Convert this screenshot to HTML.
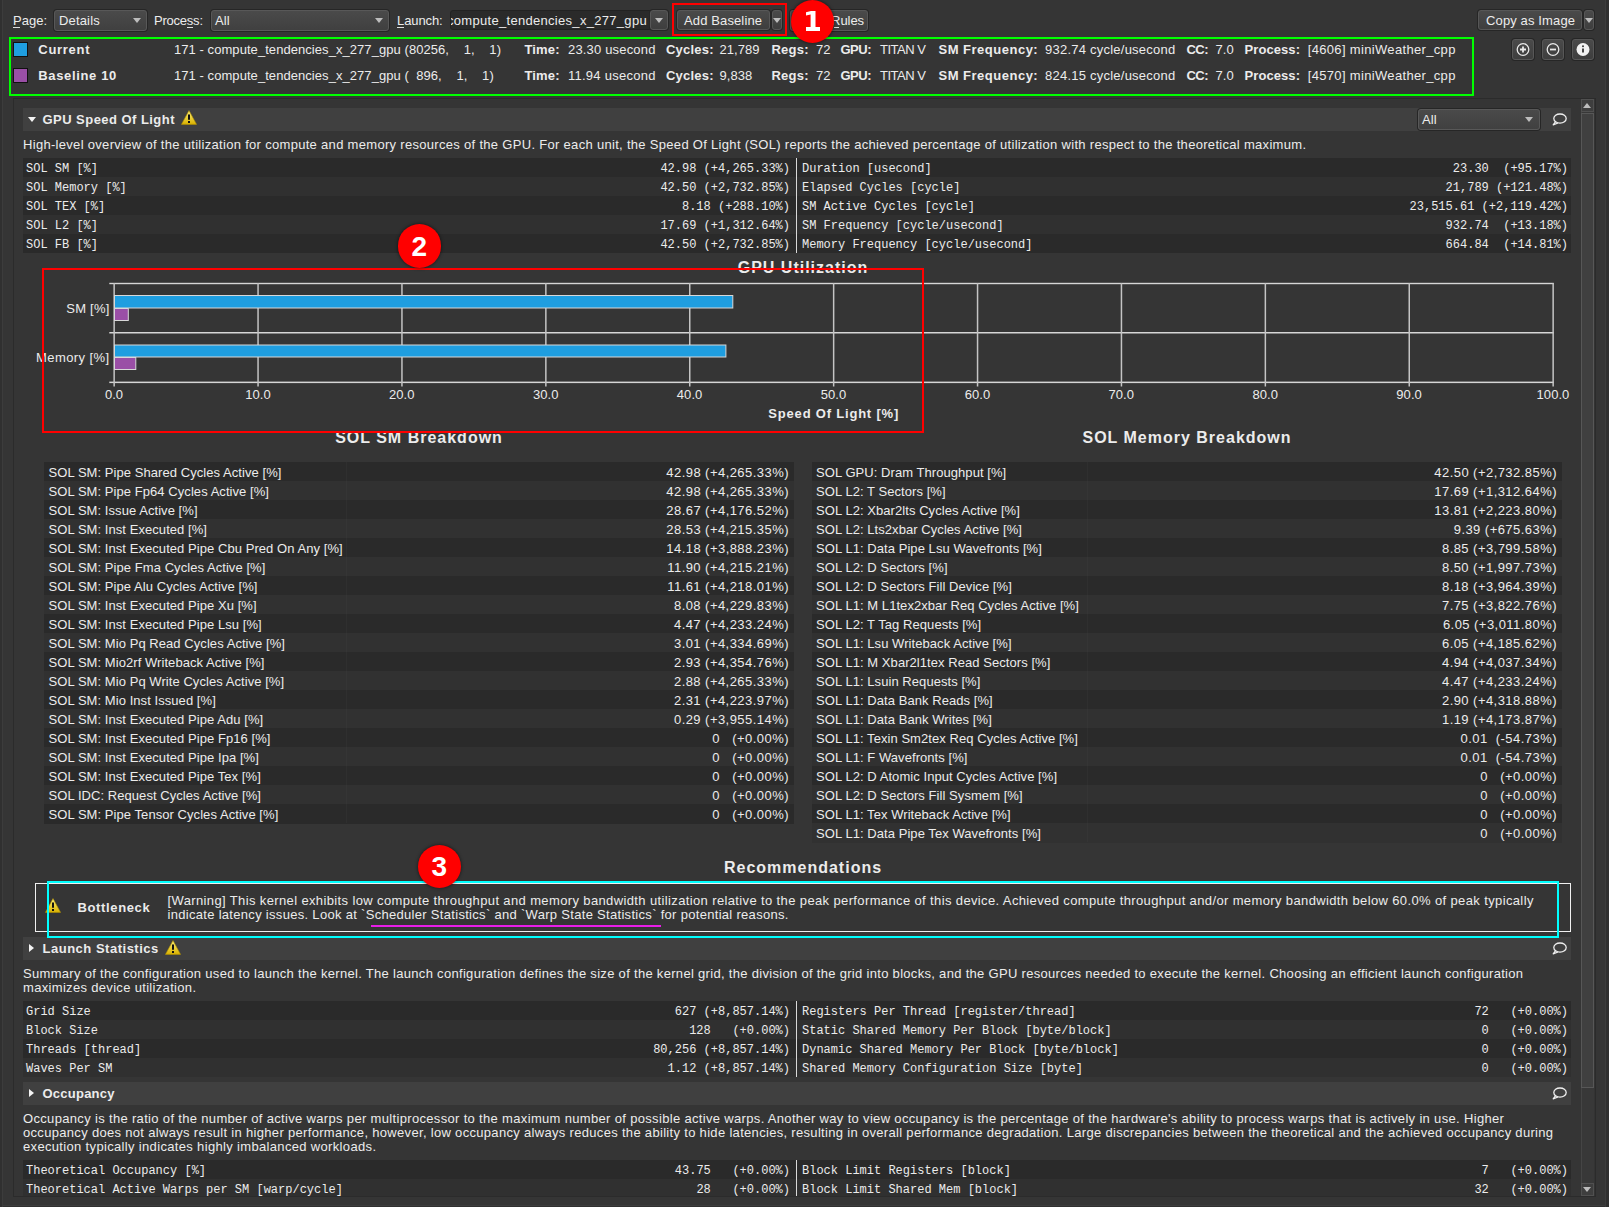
<!DOCTYPE html><html><head><meta charset="utf-8"><style>

*{margin:0;padding:0;box-sizing:border-box}
html,body{width:1609px;height:1207px;overflow:hidden;background:#353535}
body{position:relative;font-family:"Liberation Sans",sans-serif;color:#ececec}
.a{position:absolute;white-space:pre}
.n{font:13px/15px "Liberation Sans",sans-serif;letter-spacing:0.06px}
.b{font:bold 13px/15px "Liberation Sans",sans-serif;letter-spacing:0.4px}
.m{font:12px/15px "Liberation Mono",monospace}
.t16{font:bold 16px/20px "Liberation Sans",sans-serif;letter-spacing:1.0px}


.btn{position:absolute;border:1px solid #575757;border-radius:3px;background:linear-gradient(#4a4a4a,#3e3e3e);box-shadow:0 0 0 1px #262626}
.combo{position:absolute;border:1px solid #585858;border-radius:3px;background:linear-gradient(#4a4a4a,#404040);box-shadow:0 0 0 1px #262626}
.arr{position:absolute;width:0;height:0;border-left:4px solid transparent;border-right:4px solid transparent;border-top:5px solid #bdbdbd}
.circ{position:absolute;border-radius:50%;background:#ff0000;box-shadow:0 0 3px 1px rgba(0,0,0,0.35)}
.sech{position:absolute;background:#404040}
.row0{position:absolute;background:#2a2a2a}
.row1{position:absolute;background:#303030}

</style></head><body>
<div class="a" style="left:0px;top:0px;width:1609px;height:1207px;background:#353535;"></div>
<div class="a" style="left:0px;top:0px;width:2px;height:1207px;background:#303030;"></div>
<div class="a" style="left:2px;top:0px;width:1px;height:1207px;background:#3c3c3c;"></div>
<div class="a" style="left:1605px;top:0px;width:1px;height:1207px;background:#3c3c3c;"></div>
<div class="a" style="left:1606px;top:0px;width:3px;height:1207px;background:#2f2f2f;"></div>
<div class="a" style="left:3px;top:1205px;width:1602px;height:1px;background:#3c3c3c;"></div>
<div class="a" style="left:3px;top:1206px;width:1602px;height:1px;background:#303030;"></div>
<div class="a" style="left:13px;top:98px;width:1583px;height:1099px;background:#2b2b2b;"></div>
<div class="a" style="left:14px;top:99px;width:1567px;height:1097px;background:#353535;"></div>
<div class="a" style="left:1581px;top:99px;width:14px;height:1097px;background:#333333;"></div>
<div class="a" style="left:1581px;top:99px;width:13px;height:13px;background:#3e3e3e;border:1px solid #505050"></div>
<div class="arr" style="left:1583px;top:103px;border-top:none;border-bottom:5px solid #bdbdbd"></div>
<div class="a" style="left:1581px;top:112px;width:13px;height:1071px;background:#383838;border-left:1px solid #454545"></div>
<div class="a" style="left:1581px;top:113px;width:13px;height:975px;background:#404040;border:1px solid #575757"></div>
<div class="a" style="left:1581px;top:1183px;width:13px;height:13px;background:#3e3e3e;border:1px solid #505050"></div>
<div class="arr" style="left:1583px;top:1187px"></div>
<div id="t1" class="a n" style="letter-spacing:0.004px;top:13px;left:13px;">Page:</div>
<div class="a" style="left:13px;top:27px;width:7px;height:1px;background:#dddddd;"></div>
<div class="combo" style="left:54px;top:10px;width:93px;height:21px"></div>
<div id="t2" class="a n" style="letter-spacing:0.158px;top:13px;left:59px;">Details</div>
<div class="arr" style="left:133px;top:18px"></div>
<div id="t3" class="a n" style="letter-spacing:-0.225px;top:13px;left:154px;">Process:</div>
<div class="a" style="left:187px;top:27px;width:6px;height:1px;background:#dddddd;"></div>
<div class="combo" style="left:211px;top:10px;width:178px;height:21px"></div>
<div id="t4" class="a n" style="top:13px;left:215px;">All</div>
<div class="arr" style="left:375px;top:18px"></div>
<div id="t5" class="a n" style="letter-spacing:-0.094px;top:13px;left:397px;">Launch:</div>
<div class="a" style="left:397px;top:27px;width:7px;height:1px;background:#dddddd;"></div>
<div class="a" style="left:450px;top:10px;width:218px;height:20px;background:#2a2a2a;border-radius:3px;border:1px solid #222"></div>
<div style="position:absolute;left:451px;top:10px;width:199px;height:20px;overflow:hidden"><div class="a n" style="left:-4px;top:3px;letter-spacing:0.3px">compute_tendencies_x_277_gpu</div></div>
<div class="btn" style="left:650px;top:10px;width:18px;height:20px"></div>
<div class="arr" style="left:655px;top:18px"></div>
<div class="btn" style="left:677px;top:10px;width:93px;height:20px"></div>
<div id="t6" class="a n" style="letter-spacing:0.125px;top:13px;left:684px;">Add Baseline</div>
<div class="btn" style="left:772px;top:10px;width:10px;height:20px"></div>
<div class="arr" style="left:773px;top:18px;border-left-width:4px;border-right-width:4px"></div>
<div class="btn" style="left:790px;top:10px;width:78px;height:21px"></div>
<div id="t7" class="a n" style="letter-spacing:-0.062px;top:13px;right:745px;">Rules</div>
<div class="a" style="left:834px;top:27px;width:5px;height:1px;background:#dddddd;"></div>
<div class="a" style="left:672px;top:3px;width:115px;height:33px;border:2px solid #ff0000"></div>
<div class="btn" style="left:1478px;top:10px;width:104px;height:20px"></div>
<div id="t8" class="a n" style="letter-spacing:0.130px;top:13px;left:1486px;">Copy as Image</div>
<div class="btn" style="left:1584px;top:10px;width:10px;height:20px"></div>
<div class="arr" style="left:1585px;top:18px"></div>
<div class="a" style="left:9px;top:37px;width:1465px;height:59px;border:2px solid #00ff00"></div>
<div class="a" style="left:13px;top:42px;width:15px;height:15px;background:#1f9ee0;border:1px solid #111"></div>
<div class="a" style="left:13px;top:68px;width:15px;height:15px;background:#9a4fa6;border:1px solid #111"></div>
<div id="t9" class="a b" style="letter-spacing:0.708px;top:42px;left:38.3px;">Current</div>
<div id="t10" class="a n" style="top:42px;left:174px;">171 - compute_tendencies_x_277_gpu (80256,    1,    1)</div>
<div id="t11" class="a b" style="letter-spacing:0.141px;top:42px;left:524.5px;">Time:</div>
<div id="t12" class="a n" style="letter-spacing:0.175px;top:42px;left:568px;">23.30 usecond</div>
<div id="t13" class="a b" style="letter-spacing:0.208px;top:42px;left:666px;">Cycles:</div>
<div id="t14" class="a n" style="top:42px;left:719.5px;">21,789</div>
<div id="t15" class="a b" style="letter-spacing:0.219px;top:42px;left:771.5px;">Regs:</div>
<div id="t16" class="a n" style="top:42px;left:816px;">72</div>
<div id="t17" class="a b" style="letter-spacing:-0.500px;top:42px;left:840.5px;">GPU:</div>
<div id="t18" class="a n" style="letter-spacing:-0.479px;top:42px;left:880px;">TITAN V</div>
<div id="t19" class="a b" style="letter-spacing:0.501px;top:42px;left:938.5px;">SM Frequency:</div>
<div id="t20" class="a n" style="letter-spacing:0.233px;top:42px;left:1045px;">932.74 cycle/usecond</div>
<div id="t21" class="a b" style="letter-spacing:-0.555px;top:42px;left:1186.5px;">CC:</div>
<div id="t22" class="a n" style="top:42px;left:1215.5px;">7.0</div>
<div id="t23" class="a b" style="letter-spacing:0.083px;top:42px;left:1244.5px;">Process:</div>
<div id="t24" class="a n" style="letter-spacing:0.334px;top:42px;left:1307.7px;">[4606] miniWeather_cpp</div>
<div id="t25" class="a b" style="letter-spacing:0.645px;top:68px;left:38.3px;">Baseline 10</div>
<div id="t26" class="a n" style="top:68px;left:174px;">171 - compute_tendencies_x_277_gpu (  896,    1,    1)</div>
<div id="t27" class="a b" style="letter-spacing:0.141px;top:68px;left:524.5px;">Time:</div>
<div id="t28" class="a n" style="letter-spacing:0.255px;top:68px;left:568px;">11.94 usecond</div>
<div id="t29" class="a b" style="letter-spacing:0.208px;top:68px;left:666px;">Cycles:</div>
<div id="t30" class="a n" style="top:68px;left:719.5px;">9,838</div>
<div id="t31" class="a b" style="letter-spacing:0.219px;top:68px;left:771.5px;">Regs:</div>
<div id="t32" class="a n" style="top:68px;left:816px;">72</div>
<div id="t33" class="a b" style="letter-spacing:-0.500px;top:68px;left:840.5px;">GPU:</div>
<div id="t34" class="a n" style="letter-spacing:-0.479px;top:68px;left:880px;">TITAN V</div>
<div id="t35" class="a b" style="letter-spacing:0.501px;top:68px;left:938.5px;">SM Frequency:</div>
<div id="t36" class="a n" style="letter-spacing:0.233px;top:68px;left:1045px;">824.15 cycle/usecond</div>
<div id="t37" class="a b" style="letter-spacing:-0.555px;top:68px;left:1186.5px;">CC:</div>
<div id="t38" class="a n" style="top:68px;left:1215.5px;">7.0</div>
<div id="t39" class="a b" style="letter-spacing:0.083px;top:68px;left:1244.5px;">Process:</div>
<div id="t40" class="a n" style="letter-spacing:0.334px;top:68px;left:1307.7px;">[4570] miniWeather_cpp</div>
<div class="btn" style="left:1512px;top:39px;width:22px;height:21px"></div>
<div class="btn" style="left:1542px;top:39px;width:22px;height:21px"></div>
<div class="btn" style="left:1572px;top:39px;width:22px;height:21px"></div>
<svg class="a" style="left:1512px;top:39px" width="82" height="21" viewBox="0 0 82 21">
<circle cx="11" cy="10.5" r="5.8" fill="none" stroke="#e8e8e8" stroke-width="1.3"/>
<path d="M8 10.5h6M11 7.5v6" stroke="#e8e8e8" stroke-width="1.8"/>
<circle cx="41" cy="10.5" r="5.8" fill="none" stroke="#e8e8e8" stroke-width="1.3"/>
<path d="M38 10.5h6" stroke="#e8e8e8" stroke-width="1.8"/>
<circle cx="71" cy="10.5" r="6.5" fill="#f2f2f2"/>
<path d="M71 9.5v4" stroke="#333" stroke-width="1.8"/><circle cx="71" cy="7.3" r="1" fill="#333"/>
</svg>
<div class="sech" style="left:23px;top:108px;width:1548px;height:23px"></div>
<div class="arr" style="left:28px;top:117px;border-left-width:4px;border-right-width:4px;border-top:5px solid #f4f4f4"></div>
<div id="t41" class="a b" style="letter-spacing:0.457px;top:112px;left:42.5px;">GPU Speed Of Light</div>
<svg class="a" style="left:181px;top:110px" width="16" height="15" viewBox="0 0 16 15">
<defs><linearGradient id="wg222" x1="0" y1="0" x2="0" y2="1"><stop offset="0" stop-color="#fff27a"/><stop offset="1" stop-color="#d9b100"/></linearGradient></defs>
<path d="M8 0.6 L15.6 14.4 L0.4 14.4 Z" fill="url(#wg222)" stroke="#b08f00" stroke-width="0.6"/>
<path d="M8 4.6v5.2" stroke="#111" stroke-width="2"/><rect x="7" y="11" width="2" height="2" fill="#111"/>
</svg>
<div class="combo" style="left:1418px;top:109px;width:122px;height:21px"></div>
<div id="t42" class="a n" style="top:112px;left:1422px;">All</div>
<div class="arr" style="left:1525px;top:117px"></div>
<svg class="a" style="left:1552px;top:113px" width="15" height="13" viewBox="0 0 15 13">
<ellipse cx="8" cy="5.6" rx="6.2" ry="4.6" fill="none" stroke="#f0f0f0" stroke-width="1.3"/>
<path d="M3.6 8.6 L1.2 11.8 L6 10" fill="none" stroke="#f0f0f0" stroke-width="1.3" stroke-linejoin="round"/>
</svg>
<div id="t43" class="a n" style="letter-spacing:0.305px;top:137px;left:23px;">High-level overview of the utilization for compute and memory resources of the GPU. For each unit, the Speed Of Light (SOL) reports the achieved percentage of utilization with respect to the theoretical maximum.</div>
<div class="a" style="left:23px;top:158px;width:1548px;height:19px;background:#2a2a2a;"></div>
<div id="t44" class="a m" style="top:162px;left:26px;">SOL SM [%]</div>
<div id="t45" class="a m" style="top:162px;right:819px;">42.98 (+4,265.33%)</div>
<div id="t46" class="a m" style="top:162px;left:802px;">Duration [usecond]</div>
<div id="t47" class="a m" style="top:162px;right:41px;">23.30  (+95.17%)</div>
<div class="a" style="left:23px;top:177px;width:1548px;height:19px;background:#303030;"></div>
<div id="t48" class="a m" style="top:181px;left:26px;">SOL Memory [%]</div>
<div id="t49" class="a m" style="top:181px;right:819px;">42.50 (+2,732.85%)</div>
<div id="t50" class="a m" style="top:181px;left:802px;">Elapsed Cycles [cycle]</div>
<div id="t51" class="a m" style="top:181px;right:41px;">21,789 (+121.48%)</div>
<div class="a" style="left:23px;top:196px;width:1548px;height:19px;background:#2a2a2a;"></div>
<div id="t52" class="a m" style="top:200px;left:26px;">SOL TEX [%]</div>
<div id="t53" class="a m" style="top:200px;right:819px;">8.18 (+288.10%)</div>
<div id="t54" class="a m" style="top:200px;left:802px;">SM Active Cycles [cycle]</div>
<div id="t55" class="a m" style="top:200px;right:41px;">23,515.61 (+2,119.42%)</div>
<div class="a" style="left:23px;top:215px;width:1548px;height:19px;background:#303030;"></div>
<div id="t56" class="a m" style="top:219px;left:26px;">SOL L2 [%]</div>
<div id="t57" class="a m" style="top:219px;right:819px;">17.69 (+1,312.64%)</div>
<div id="t58" class="a m" style="top:219px;left:802px;">SM Frequency [cycle/usecond]</div>
<div id="t59" class="a m" style="top:219px;right:41px;">932.74  (+13.18%)</div>
<div class="a" style="left:23px;top:234px;width:1548px;height:19px;background:#2a2a2a;"></div>
<div id="t60" class="a m" style="top:238px;left:26px;">SOL FB [%]</div>
<div id="t61" class="a m" style="top:238px;right:819px;">42.50 (+2,732.85%)</div>
<div id="t62" class="a m" style="top:238px;left:802px;">Memory Frequency [cycle/usecond]</div>
<div id="t63" class="a m" style="top:238px;right:41px;">664.84  (+14.81%)</div>
<div class="a" style="left:796px;top:158px;width:1px;height:95px;background:#d8d8d8;"></div>
<svg class="a" style="left:0;top:0" width="1609" height="1207" viewBox="0 0 1609 1207">
<rect x="109.3" y="282.8" width="1444.5" height="1.4" fill="#d6d6d6"/>
<rect x="109.3" y="332.0" width="1444.5" height="1.5" fill="#d6d6d6"/>
<rect x="109.3" y="381.6" width="1444.5" height="1.5" fill="#d6d6d6"/>
<rect x="113.40" y="283" width="1.5" height="103.5" fill="#c4c4c4"/>
<rect x="257.30" y="283" width="1.5" height="103.5" fill="#c4c4c4"/>
<rect x="401.20" y="283" width="1.5" height="103.5" fill="#c4c4c4"/>
<rect x="545.10" y="283" width="1.5" height="103.5" fill="#c4c4c4"/>
<rect x="689.00" y="283" width="1.5" height="103.5" fill="#c4c4c4"/>
<rect x="832.90" y="283" width="1.5" height="103.5" fill="#c4c4c4"/>
<rect x="976.80" y="283" width="1.5" height="103.5" fill="#c4c4c4"/>
<rect x="1120.70" y="283" width="1.5" height="103.5" fill="#c4c4c4"/>
<rect x="1264.60" y="283" width="1.5" height="103.5" fill="#c4c4c4"/>
<rect x="1408.50" y="283" width="1.5" height="103.5" fill="#c4c4c4"/>
<rect x="1552.40" y="283" width="1.5" height="103.5" fill="#c4c4c4"/>
<rect x="114.5" y="295.5" width="618.3" height="12.5" fill="#1f9ee0" stroke="#d8d8d8" stroke-width="1"/>
<rect x="114.5" y="308.5" width="13.8" height="12.0" fill="#9a4fa6" stroke="#d8d8d8" stroke-width="1"/>
<rect x="114.5" y="345.0" width="611.4" height="12.0" fill="#1f9ee0" stroke="#d8d8d8" stroke-width="1"/>
<rect x="114.5" y="357.5" width="21.3" height="12.0" fill="#9a4fa6" stroke="#d8d8d8" stroke-width="1"/>
</svg>
<div id="t64" class="a n" style="letter-spacing:0.219px;top:301px;right:1499.5px;">SM [%]</div>
<div id="t65" class="a n" style="letter-spacing:0.406px;top:350px;right:1499.5px;">Memory [%]</div>
<div id="t66" class="a n" style="top:387px;left:114.0px;width:0;display:flex;justify-content:center;"><span>0.0</span></div>
<div id="t67" class="a n" style="top:387px;left:257.9px;width:0;display:flex;justify-content:center;"><span>10.0</span></div>
<div id="t68" class="a n" style="top:387px;left:401.8px;width:0;display:flex;justify-content:center;"><span>20.0</span></div>
<div id="t69" class="a n" style="top:387px;left:545.7px;width:0;display:flex;justify-content:center;"><span>30.0</span></div>
<div id="t70" class="a n" style="top:387px;left:689.6px;width:0;display:flex;justify-content:center;"><span>40.0</span></div>
<div id="t71" class="a n" style="top:387px;left:833.5px;width:0;display:flex;justify-content:center;"><span>50.0</span></div>
<div id="t72" class="a n" style="top:387px;left:977.4px;width:0;display:flex;justify-content:center;"><span>60.0</span></div>
<div id="t73" class="a n" style="top:387px;left:1121.3px;width:0;display:flex;justify-content:center;"><span>70.0</span></div>
<div id="t74" class="a n" style="top:387px;left:1265.2px;width:0;display:flex;justify-content:center;"><span>80.0</span></div>
<div id="t75" class="a n" style="top:387px;left:1409.1px;width:0;display:flex;justify-content:center;"><span>90.0</span></div>
<div id="t76" class="a n" style="top:387px;left:1553.0px;width:0;display:flex;justify-content:center;"><span>100.0</span></div>
<div id="t77" class="a t16" style="top:258px;left:803px;width:0;display:flex;justify-content:center;"><span>GPU Utilization</span></div>
<div id="t78" class="a b" style="top:406px;left:833.7px;width:0;display:flex;justify-content:center;letter-spacing:0.8px"><span>Speed Of Light [%]</span></div>
<div id="t79" class="a t16" style="top:428px;left:419px;width:0;display:flex;justify-content:center;"><span>SOL SM Breakdown</span></div>
<div id="t80" class="a t16" style="top:428px;left:1187px;width:0;display:flex;justify-content:center;"><span>SOL Memory Breakdown</span></div>
<div class="a" style="left:44px;top:462px;width:750px;height:19px;background:#2a2a2a;"></div>
<div id="t81" class="a n" style="top:465px;left:48.5px;">SOL SM: Pipe Shared Cycles Active [%]</div>
<div id="t82" class="a n" style="top:465px;right:820.5px;letter-spacing:0.45px;margin-right:-0.45px">42.98 (+4,265.33%)</div>
<div class="a" style="left:44px;top:481px;width:750px;height:19px;background:#313131;"></div>
<div id="t83" class="a n" style="top:484px;left:48.5px;">SOL SM: Pipe Fp64 Cycles Active [%]</div>
<div id="t84" class="a n" style="top:484px;right:820.5px;letter-spacing:0.45px;margin-right:-0.45px">42.98 (+4,265.33%)</div>
<div class="a" style="left:44px;top:500px;width:750px;height:19px;background:#2a2a2a;"></div>
<div id="t85" class="a n" style="top:503px;left:48.5px;">SOL SM: Issue Active [%]</div>
<div id="t86" class="a n" style="top:503px;right:820.5px;letter-spacing:0.45px;margin-right:-0.45px">28.67 (+4,176.52%)</div>
<div class="a" style="left:44px;top:519px;width:750px;height:19px;background:#313131;"></div>
<div id="t87" class="a n" style="top:522px;left:48.5px;">SOL SM: Inst Executed [%]</div>
<div id="t88" class="a n" style="top:522px;right:820.5px;letter-spacing:0.45px;margin-right:-0.45px">28.53 (+4,215.35%)</div>
<div class="a" style="left:44px;top:538px;width:750px;height:19px;background:#2a2a2a;"></div>
<div id="t89" class="a n" style="top:541px;left:48.5px;">SOL SM: Inst Executed Pipe Cbu Pred On Any [%]</div>
<div id="t90" class="a n" style="top:541px;right:820.5px;letter-spacing:0.45px;margin-right:-0.45px">14.18 (+3,888.23%)</div>
<div class="a" style="left:44px;top:557px;width:750px;height:19px;background:#313131;"></div>
<div id="t91" class="a n" style="top:560px;left:48.5px;">SOL SM: Pipe Fma Cycles Active [%]</div>
<div id="t92" class="a n" style="top:560px;right:820.5px;letter-spacing:0.45px;margin-right:-0.45px">11.90 (+4,215.21%)</div>
<div class="a" style="left:44px;top:576px;width:750px;height:19px;background:#2a2a2a;"></div>
<div id="t93" class="a n" style="top:579px;left:48.5px;">SOL SM: Pipe Alu Cycles Active [%]</div>
<div id="t94" class="a n" style="top:579px;right:820.5px;letter-spacing:0.45px;margin-right:-0.45px">11.61 (+4,218.01%)</div>
<div class="a" style="left:44px;top:595px;width:750px;height:19px;background:#313131;"></div>
<div id="t95" class="a n" style="top:598px;left:48.5px;">SOL SM: Inst Executed Pipe Xu [%]</div>
<div id="t96" class="a n" style="top:598px;right:820.5px;letter-spacing:0.45px;margin-right:-0.45px">8.08 (+4,229.83%)</div>
<div class="a" style="left:44px;top:614px;width:750px;height:19px;background:#2a2a2a;"></div>
<div id="t97" class="a n" style="top:617px;left:48.5px;">SOL SM: Inst Executed Pipe Lsu [%]</div>
<div id="t98" class="a n" style="top:617px;right:820.5px;letter-spacing:0.45px;margin-right:-0.45px">4.47 (+4,233.24%)</div>
<div class="a" style="left:44px;top:633px;width:750px;height:19px;background:#313131;"></div>
<div id="t99" class="a n" style="top:636px;left:48.5px;">SOL SM: Mio Pq Read Cycles Active [%]</div>
<div id="t100" class="a n" style="top:636px;right:820.5px;letter-spacing:0.45px;margin-right:-0.45px">3.01 (+4,334.69%)</div>
<div class="a" style="left:44px;top:652px;width:750px;height:19px;background:#2a2a2a;"></div>
<div id="t101" class="a n" style="top:655px;left:48.5px;">SOL SM: Mio2rf Writeback Active [%]</div>
<div id="t102" class="a n" style="top:655px;right:820.5px;letter-spacing:0.45px;margin-right:-0.45px">2.93 (+4,354.76%)</div>
<div class="a" style="left:44px;top:671px;width:750px;height:19px;background:#313131;"></div>
<div id="t103" class="a n" style="top:674px;left:48.5px;">SOL SM: Mio Pq Write Cycles Active [%]</div>
<div id="t104" class="a n" style="top:674px;right:820.5px;letter-spacing:0.45px;margin-right:-0.45px">2.88 (+4,265.33%)</div>
<div class="a" style="left:44px;top:690px;width:750px;height:19px;background:#2a2a2a;"></div>
<div id="t105" class="a n" style="top:693px;left:48.5px;">SOL SM: Mio Inst Issued [%]</div>
<div id="t106" class="a n" style="top:693px;right:820.5px;letter-spacing:0.45px;margin-right:-0.45px">2.31 (+4,223.97%)</div>
<div class="a" style="left:44px;top:709px;width:750px;height:19px;background:#313131;"></div>
<div id="t107" class="a n" style="top:712px;left:48.5px;">SOL SM: Inst Executed Pipe Adu [%]</div>
<div id="t108" class="a n" style="top:712px;right:820.5px;letter-spacing:0.45px;margin-right:-0.45px">0.29 (+3,955.14%)</div>
<div class="a" style="left:44px;top:728px;width:750px;height:19px;background:#2a2a2a;"></div>
<div id="t109" class="a n" style="top:731px;left:48.5px;">SOL SM: Inst Executed Pipe Fp16 [%]</div>
<div id="t110" class="a n" style="top:731px;right:820.5px;letter-spacing:0.45px;margin-right:-0.45px">0   (+0.00%)</div>
<div class="a" style="left:44px;top:747px;width:750px;height:19px;background:#313131;"></div>
<div id="t111" class="a n" style="top:750px;left:48.5px;">SOL SM: Inst Executed Pipe Ipa [%]</div>
<div id="t112" class="a n" style="top:750px;right:820.5px;letter-spacing:0.45px;margin-right:-0.45px">0   (+0.00%)</div>
<div class="a" style="left:44px;top:766px;width:750px;height:19px;background:#2a2a2a;"></div>
<div id="t113" class="a n" style="top:769px;left:48.5px;">SOL SM: Inst Executed Pipe Tex [%]</div>
<div id="t114" class="a n" style="top:769px;right:820.5px;letter-spacing:0.45px;margin-right:-0.45px">0   (+0.00%)</div>
<div class="a" style="left:44px;top:785px;width:750px;height:19px;background:#313131;"></div>
<div id="t115" class="a n" style="top:788px;left:48.5px;">SOL IDC: Request Cycles Active [%]</div>
<div id="t116" class="a n" style="top:788px;right:820.5px;letter-spacing:0.45px;margin-right:-0.45px">0   (+0.00%)</div>
<div class="a" style="left:44px;top:804px;width:750px;height:20px;background:#2a2a2a;"></div>
<div id="t117" class="a n" style="top:807px;left:48.5px;">SOL SM: Pipe Tensor Cycles Active [%]</div>
<div id="t118" class="a n" style="top:807px;right:820.5px;letter-spacing:0.45px;margin-right:-0.45px">0   (+0.00%)</div>
<div class="a" style="left:346px;top:462px;width:1px;height:361px;background:rgba(255,255,255,0.025);"></div>
<div class="a" style="left:812px;top:462px;width:750px;height:19px;background:#2a2a2a;"></div>
<div id="t119" class="a n" style="top:465px;left:816px;">SOL GPU: Dram Throughput [%]</div>
<div id="t120" class="a n" style="top:465px;right:52.5px;letter-spacing:0.45px;margin-right:-0.45px">42.50 (+2,732.85%)</div>
<div class="a" style="left:812px;top:481px;width:750px;height:19px;background:#313131;"></div>
<div id="t121" class="a n" style="top:484px;left:816px;">SOL L2: T Sectors [%]</div>
<div id="t122" class="a n" style="top:484px;right:52.5px;letter-spacing:0.45px;margin-right:-0.45px">17.69 (+1,312.64%)</div>
<div class="a" style="left:812px;top:500px;width:750px;height:19px;background:#2a2a2a;"></div>
<div id="t123" class="a n" style="top:503px;left:816px;">SOL L2: Xbar2lts Cycles Active [%]</div>
<div id="t124" class="a n" style="top:503px;right:52.5px;letter-spacing:0.45px;margin-right:-0.45px">13.81 (+2,223.80%)</div>
<div class="a" style="left:812px;top:519px;width:750px;height:19px;background:#313131;"></div>
<div id="t125" class="a n" style="top:522px;left:816px;">SOL L2: Lts2xbar Cycles Active [%]</div>
<div id="t126" class="a n" style="top:522px;right:52.5px;letter-spacing:0.45px;margin-right:-0.45px">9.39 (+675.63%)</div>
<div class="a" style="left:812px;top:538px;width:750px;height:19px;background:#2a2a2a;"></div>
<div id="t127" class="a n" style="top:541px;left:816px;">SOL L1: Data Pipe Lsu Wavefronts [%]</div>
<div id="t128" class="a n" style="top:541px;right:52.5px;letter-spacing:0.45px;margin-right:-0.45px">8.85 (+3,799.58%)</div>
<div class="a" style="left:812px;top:557px;width:750px;height:19px;background:#313131;"></div>
<div id="t129" class="a n" style="top:560px;left:816px;">SOL L2: D Sectors [%]</div>
<div id="t130" class="a n" style="top:560px;right:52.5px;letter-spacing:0.45px;margin-right:-0.45px">8.50 (+1,997.73%)</div>
<div class="a" style="left:812px;top:576px;width:750px;height:19px;background:#2a2a2a;"></div>
<div id="t131" class="a n" style="top:579px;left:816px;">SOL L2: D Sectors Fill Device [%]</div>
<div id="t132" class="a n" style="top:579px;right:52.5px;letter-spacing:0.45px;margin-right:-0.45px">8.18 (+3,964.39%)</div>
<div class="a" style="left:812px;top:595px;width:750px;height:19px;background:#313131;"></div>
<div id="t133" class="a n" style="top:598px;left:816px;">SOL L1: M L1tex2xbar Req Cycles Active [%]</div>
<div id="t134" class="a n" style="top:598px;right:52.5px;letter-spacing:0.45px;margin-right:-0.45px">7.75 (+3,822.76%)</div>
<div class="a" style="left:812px;top:614px;width:750px;height:19px;background:#2a2a2a;"></div>
<div id="t135" class="a n" style="top:617px;left:816px;">SOL L2: T Tag Requests [%]</div>
<div id="t136" class="a n" style="top:617px;right:52.5px;letter-spacing:0.45px;margin-right:-0.45px">6.05 (+3,011.80%)</div>
<div class="a" style="left:812px;top:633px;width:750px;height:19px;background:#313131;"></div>
<div id="t137" class="a n" style="top:636px;left:816px;">SOL L1: Lsu Writeback Active [%]</div>
<div id="t138" class="a n" style="top:636px;right:52.5px;letter-spacing:0.45px;margin-right:-0.45px">6.05 (+4,185.62%)</div>
<div class="a" style="left:812px;top:652px;width:750px;height:19px;background:#2a2a2a;"></div>
<div id="t139" class="a n" style="top:655px;left:816px;">SOL L1: M Xbar2l1tex Read Sectors [%]</div>
<div id="t140" class="a n" style="top:655px;right:52.5px;letter-spacing:0.45px;margin-right:-0.45px">4.94 (+4,037.34%)</div>
<div class="a" style="left:812px;top:671px;width:750px;height:19px;background:#313131;"></div>
<div id="t141" class="a n" style="top:674px;left:816px;">SOL L1: Lsuin Requests [%]</div>
<div id="t142" class="a n" style="top:674px;right:52.5px;letter-spacing:0.45px;margin-right:-0.45px">4.47 (+4,233.24%)</div>
<div class="a" style="left:812px;top:690px;width:750px;height:19px;background:#2a2a2a;"></div>
<div id="t143" class="a n" style="top:693px;left:816px;">SOL L1: Data Bank Reads [%]</div>
<div id="t144" class="a n" style="top:693px;right:52.5px;letter-spacing:0.45px;margin-right:-0.45px">2.90 (+4,318.88%)</div>
<div class="a" style="left:812px;top:709px;width:750px;height:19px;background:#313131;"></div>
<div id="t145" class="a n" style="top:712px;left:816px;">SOL L1: Data Bank Writes [%]</div>
<div id="t146" class="a n" style="top:712px;right:52.5px;letter-spacing:0.45px;margin-right:-0.45px">1.19 (+4,173.87%)</div>
<div class="a" style="left:812px;top:728px;width:750px;height:19px;background:#2a2a2a;"></div>
<div id="t147" class="a n" style="top:731px;left:816px;">SOL L1: Texin Sm2tex Req Cycles Active [%]</div>
<div id="t148" class="a n" style="top:731px;right:52.5px;letter-spacing:0.45px;margin-right:-0.45px">0.01  (-54.73%)</div>
<div class="a" style="left:812px;top:747px;width:750px;height:19px;background:#313131;"></div>
<div id="t149" class="a n" style="top:750px;left:816px;">SOL L1: F Wavefronts [%]</div>
<div id="t150" class="a n" style="top:750px;right:52.5px;letter-spacing:0.45px;margin-right:-0.45px">0.01  (-54.73%)</div>
<div class="a" style="left:812px;top:766px;width:750px;height:19px;background:#2a2a2a;"></div>
<div id="t151" class="a n" style="top:769px;left:816px;">SOL L2: D Atomic Input Cycles Active [%]</div>
<div id="t152" class="a n" style="top:769px;right:52.5px;letter-spacing:0.45px;margin-right:-0.45px">0   (+0.00%)</div>
<div class="a" style="left:812px;top:785px;width:750px;height:19px;background:#313131;"></div>
<div id="t153" class="a n" style="top:788px;left:816px;">SOL L2: D Sectors Fill Sysmem [%]</div>
<div id="t154" class="a n" style="top:788px;right:52.5px;letter-spacing:0.45px;margin-right:-0.45px">0   (+0.00%)</div>
<div class="a" style="left:812px;top:804px;width:750px;height:19px;background:#2a2a2a;"></div>
<div id="t155" class="a n" style="top:807px;left:816px;">SOL L1: Tex Writeback Active [%]</div>
<div id="t156" class="a n" style="top:807px;right:52.5px;letter-spacing:0.45px;margin-right:-0.45px">0   (+0.00%)</div>
<div class="a" style="left:812px;top:823px;width:750px;height:20px;background:#313131;"></div>
<div id="t157" class="a n" style="top:826px;left:816px;">SOL L1: Data Pipe Tex Wavefronts [%]</div>
<div id="t158" class="a n" style="top:826px;right:52.5px;letter-spacing:0.45px;margin-right:-0.45px">0   (+0.00%)</div>
<div class="a" style="left:1087px;top:462px;width:1px;height:380px;background:rgba(255,255,255,0.025);"></div>
<div id="t159" class="a t16" style="top:858px;left:803px;width:0;display:flex;justify-content:center;"><span>Recommendations</span></div>
<div class="a" style="left:35px;top:883px;width:1536px;height:49px;border:1px solid #f0f0f0"></div>
<svg class="a" style="left:45px;top:898px" width="16" height="15" viewBox="0 0 16 15">
<defs><linearGradient id="wg204" x1="0" y1="0" x2="0" y2="1"><stop offset="0" stop-color="#fff27a"/><stop offset="1" stop-color="#d9b100"/></linearGradient></defs>
<path d="M8 0.6 L15.6 14.4 L0.4 14.4 Z" fill="url(#wg204)" stroke="#b08f00" stroke-width="0.6"/>
<path d="M8 4.6v5.2" stroke="#111" stroke-width="2"/><rect x="7" y="11" width="2" height="2" fill="#111"/>
</svg>
<div id="t160" class="a b" style="letter-spacing:0.637px;top:900px;left:77.5px;">Bottleneck</div>
<div id="t161" class="a n" style="letter-spacing:0.372px;top:893px;left:167.5px;">[Warning] This kernel exhibits low compute throughput and memory bandwidth utilization relative to the peak performance of this device. Achieved compute throughput and/or memory bandwidth below 60.0% of peak typically</div>
<div id="t162" class="a n" style="letter-spacing:0.303px;top:907px;left:167.5px;">indicate latency issues. Look at `Scheduler Statistics` and `Warp State Statistics` for potential reasons.</div>
<div class="sech" style="left:23px;top:937px;width:1548px;height:23px"></div>
<div class="arr" style="left:29px;top:944px;border-top:4px solid transparent;border-bottom:4px solid transparent;border-left:5px solid #f4f4f4;border-right:none"></div>
<div id="t163" class="a b" style="letter-spacing:0.510px;top:941px;left:42.5px;">Launch Statistics</div>
<svg class="a" style="left:165px;top:940px" width="16" height="15" viewBox="0 0 16 15">
<defs><linearGradient id="wg328" x1="0" y1="0" x2="0" y2="1"><stop offset="0" stop-color="#fff27a"/><stop offset="1" stop-color="#d9b100"/></linearGradient></defs>
<path d="M8 0.6 L15.6 14.4 L0.4 14.4 Z" fill="url(#wg328)" stroke="#b08f00" stroke-width="0.6"/>
<path d="M8 4.6v5.2" stroke="#111" stroke-width="2"/><rect x="7" y="11" width="2" height="2" fill="#111"/>
</svg>
<svg class="a" style="left:1552px;top:942px" width="15" height="13" viewBox="0 0 15 13">
<ellipse cx="8" cy="5.6" rx="6.2" ry="4.6" fill="none" stroke="#f0f0f0" stroke-width="1.3"/>
<path d="M3.6 8.6 L1.2 11.8 L6 10" fill="none" stroke="#f0f0f0" stroke-width="1.3" stroke-linejoin="round"/>
</svg>
<div id="t164" class="a n" style="letter-spacing:0.306px;top:966px;left:23px;">Summary of the configuration used to launch the kernel. The launch configuration defines the size of the kernel grid, the division of the grid into blocks, and the GPU resources needed to execute the kernel. Choosing an efficient launch configuration</div>
<div id="t165" class="a n" style="letter-spacing:0.321px;top:980px;left:23px;">maximizes device utilization.</div>
<div class="a" style="left:23px;top:1001px;width:1548px;height:19px;background:#2a2a2a;"></div>
<div id="t166" class="a m" style="top:1005px;left:26px;">Grid Size</div>
<div id="t167" class="a m" style="top:1005px;right:819px;">627 (+8,857.14%)</div>
<div id="t168" class="a m" style="top:1005px;left:802px;">Registers Per Thread [register/thread]</div>
<div id="t169" class="a m" style="top:1005px;right:41px;">72   (+0.00%)</div>
<div class="a" style="left:23px;top:1020px;width:1548px;height:19px;background:#303030;"></div>
<div id="t170" class="a m" style="top:1024px;left:26px;">Block Size</div>
<div id="t171" class="a m" style="top:1024px;right:819px;">128   (+0.00%)</div>
<div id="t172" class="a m" style="top:1024px;left:802px;">Static Shared Memory Per Block [byte/block]</div>
<div id="t173" class="a m" style="top:1024px;right:41px;">0   (+0.00%)</div>
<div class="a" style="left:23px;top:1039px;width:1548px;height:19px;background:#2a2a2a;"></div>
<div id="t174" class="a m" style="top:1043px;left:26px;">Threads [thread]</div>
<div id="t175" class="a m" style="top:1043px;right:819px;">80,256 (+8,857.14%)</div>
<div id="t176" class="a m" style="top:1043px;left:802px;">Dynamic Shared Memory Per Block [byte/block]</div>
<div id="t177" class="a m" style="top:1043px;right:41px;">0   (+0.00%)</div>
<div class="a" style="left:23px;top:1058px;width:1548px;height:19px;background:#303030;"></div>
<div id="t178" class="a m" style="top:1062px;left:26px;">Waves Per SM</div>
<div id="t179" class="a m" style="top:1062px;right:819px;">1.12 (+8,857.14%)</div>
<div id="t180" class="a m" style="top:1062px;left:802px;">Shared Memory Configuration Size [byte]</div>
<div id="t181" class="a m" style="top:1062px;right:41px;">0   (+0.00%)</div>
<div class="a" style="left:796px;top:1001px;width:1px;height:76px;background:#d8d8d8;"></div>
<div class="sech" style="left:23px;top:1082px;width:1548px;height:23px"></div>
<div class="arr" style="left:29px;top:1089px;border-top:4px solid transparent;border-bottom:4px solid transparent;border-left:5px solid #f4f4f4;border-right:none"></div>
<div id="t182" class="a b" style="letter-spacing:0.238px;top:1086px;left:42.5px;">Occupancy</div>
<svg class="a" style="left:1552px;top:1087px" width="15" height="13" viewBox="0 0 15 13">
<ellipse cx="8" cy="5.6" rx="6.2" ry="4.6" fill="none" stroke="#f0f0f0" stroke-width="1.3"/>
<path d="M3.6 8.6 L1.2 11.8 L6 10" fill="none" stroke="#f0f0f0" stroke-width="1.3" stroke-linejoin="round"/>
</svg>
<div id="t183" class="a n" style="letter-spacing:0.330px;top:1111px;left:23px;">Occupancy is the ratio of the number of active warps per multiprocessor to the maximum number of possible active warps. Another way to view occupancy is the percentage of the hardware&#x27;s ability to process warps that is actively in use. Higher</div>
<div id="t184" class="a n" style="letter-spacing:0.314px;top:1125px;left:23px;">occupancy does not always result in higher performance, however, low occupancy always reduces the ability to hide latencies, resulting in overall performance degradation. Large discrepancies between the theoretical and the achieved occupancy during</div>
<div id="t185" class="a n" style="letter-spacing:0.336px;top:1139px;left:23px;">execution typically indicates highly imbalanced workloads.</div>
<div style="position:absolute;left:0;top:0;width:1609px;height:1196px;overflow:hidden">
<div class="a" style="left:23px;top:1160px;width:1548px;height:19px;background:#2a2a2a;"></div>
<div id="t186" class="a m" style="top:1164px;left:26px;">Theoretical Occupancy [%]</div>
<div id="t187" class="a m" style="top:1164px;right:819px;">43.75   (+0.00%)</div>
<div id="t188" class="a m" style="top:1164px;left:802px;">Block Limit Registers [block]</div>
<div id="t189" class="a m" style="top:1164px;right:41px;">7   (+0.00%)</div>
<div class="a" style="left:23px;top:1179px;width:1548px;height:19px;background:#303030;"></div>
<div id="t190" class="a m" style="top:1183px;left:26px;">Theoretical Active Warps per SM [warp/cycle]</div>
<div id="t191" class="a m" style="top:1183px;right:819px;">28   (+0.00%)</div>
<div id="t192" class="a m" style="top:1183px;left:802px;">Block Limit Shared Mem [block]</div>
<div id="t193" class="a m" style="top:1183px;right:41px;">32   (+0.00%)</div>
<div class="a" style="left:796px;top:1160px;width:1px;height:38px;background:#d8d8d8;"></div>
</div>
<div class="a" style="left:42px;top:268px;width:882px;height:165px;border:2px solid #ff0000"></div>
<div class="a" style="left:47px;top:881px;width:512px;height:0px;"></div>
<div class="a" style="left:47px;top:881px;width:1512px;height:57px;border:2px solid #00ffff"></div>
<div class="a" style="left:371px;top:925px;width:290px;height:2px;background:#e81ee8;"></div>
<div class="circ" style="left:790.6px;top:-0.3px;width:43.6px;height:43.6px"></div>
<div class="a" style="left:812.4px;top:7.0px;width:0;display:flex;justify-content:center;font:bold 28px/30px 'Liberation Sans',sans-serif;color:#fff"><span></span></div>
<svg class="a" style="left:0;top:0" width="900" height="40"><path d="M806 12.3 L811 11.1 L815.5 11.1 L815.5 27.1 L820 27.1 L820 30.9 L806 30.9 L806 27.1 L810.6 27.1 L810.6 14.6 L806 15.4 Z" fill="#fff"/></svg>
<div class="circ" style="left:397.6px;top:224.4px;width:43.6px;height:43.6px"></div>
<div class="a" style="left:419.4px;top:231.7px;width:0;display:flex;justify-content:center;font:bold 28px/30px 'Liberation Sans',sans-serif;color:#fff"><span>2</span></div>
<div class="circ" style="left:417.6px;top:844.5px;width:43.6px;height:43.6px"></div>
<div class="a" style="left:439.4px;top:851.8px;width:0;display:flex;justify-content:center;font:bold 28px/30px 'Liberation Sans',sans-serif;color:#fff"><span>3</span></div>
</body></html>
